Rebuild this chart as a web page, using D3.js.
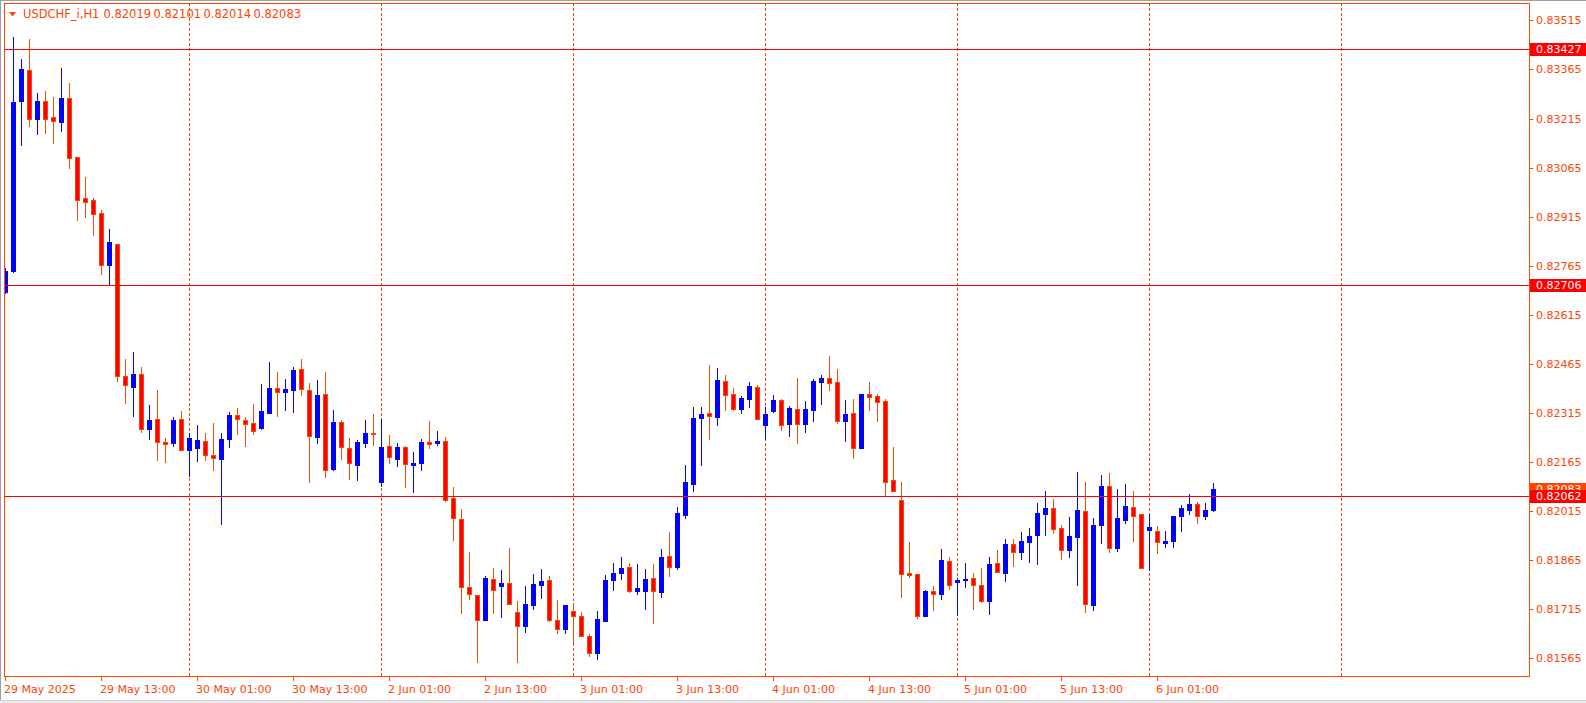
<!DOCTYPE html>
<html><head><meta charset="utf-8">
<script src="https://cdn.jsdelivr.net/npm/d3@7"></script>
<style>html,body{margin:0;padding:0;background:#fff;overflow:hidden}svg{display:block}</style>
</head><body>
<svg id="chart" width="1586" height="703"></svg>
<script>
// ---- data (USDCHF_i, H1) ----
const symbol = "USDCHF_i,H1";
const openP = [0.82685,0.82750,0.83270,0.83363,0.83215,0.83269,0.83219,0.83205,0.83278,0.83097,
0.82972,0.82966,0.82926,0.82768,0.82831,0.82428,0.82396,0.82434,0.82267,0.82297,
0.82227,0.82224,0.82297,0.82203,0.82209,0.82230,0.82187,0.82175,0.82237,0.82309,
0.82294,0.82285,0.82269,0.82316,0.82392,0.82380,0.82386,0.82449,0.82385,0.82243,
0.82373,0.82145,0.82288,0.82208,0.82157,0.82224,0.82254,0.82105,0.82213,0.82175,
0.82210,0.82155,0.82163,0.82226,0.82224,0.82230,0.82055,0.81991,0.81783,0.81759,
0.81683,0.81808,0.81787,0.81796,0.81707,0.81665,0.81729,0.81790,0.81805,0.81682,
0.81656,0.81709,0.81695,0.81634,0.81580,0.81680,0.81806,0.81827,0.81844,0.81772,
0.81772,0.81811,0.81769,0.81878,0.81845,0.82004,0.82099,0.82301,0.82314,0.82304,
0.82413,0.82372,0.82328,0.82359,0.82395,0.82279,0.82322,0.82355,0.82282,0.82327,
0.82282,0.82325,0.82411,0.82422,0.82410,0.82292,0.82315,0.82209,0.82373,0.82367,
0.82352,0.82110,0.82049,0.81826,0.81823,0.81696,0.81771,0.81763,0.81863,0.81800,
0.81806,0.81811,0.81789,0.81741,0.81857,0.81827,0.81915,0.81891,0.81922,0.81943,
0.82007,0.82025,0.81964,0.81897,0.81936,0.82016,0.81729,0.81974,0.82092,0.81903,
0.81989,0.82028,0.82006,0.81958,0.81954,0.81919,0.81925,0.82001,0.82020,0.82037,
0.82001,0.82019];
const highP = [0.82758,0.83465,0.83397,0.83458,0.83293,0.83299,0.83281,0.83370,0.83324,0.83097,
0.83036,0.82973,0.82936,0.82877,0.82831,0.82480,0.82502,0.82456,0.82340,0.82385,
0.82239,0.82302,0.82321,0.82254,0.82278,0.82254,0.82285,0.82254,0.82318,0.82330,
0.82303,0.82343,0.82404,0.82471,0.82440,0.82419,0.82456,0.82480,0.82408,0.82416,
0.82440,0.82324,0.82294,0.82239,0.82233,0.82294,0.82312,0.82298,0.82248,0.82223,
0.82214,0.82196,0.82236,0.82292,0.82261,0.82243,0.82089,0.82022,0.81890,0.81759,
0.81817,0.81841,0.81835,0.81903,0.81741,0.81786,0.81823,0.81838,0.81818,0.81744,
0.81728,0.81732,0.81707,0.81641,0.81710,0.81820,0.81857,0.81875,0.81857,0.81854,
0.81838,0.81854,0.81900,0.81951,0.82028,0.82156,0.82333,0.82333,0.82462,0.82453,
0.82431,0.82392,0.82367,0.82410,0.82401,0.82333,0.82370,0.82358,0.82337,0.82422,
0.82352,0.82419,0.82431,0.82489,0.82450,0.82355,0.82358,0.82373,0.82410,0.82373,
0.82358,0.82212,0.82104,0.81921,0.81823,0.81774,0.81786,0.81900,0.81875,0.81812,
0.81857,0.81826,0.81841,0.81875,0.81896,0.81930,0.81930,0.81951,0.81964,0.82040,
0.82077,0.82052,0.81973,0.81997,0.82135,0.82104,0.81994,0.82126,0.82132,0.82083,
0.82098,0.82077,0.82006,0.82006,0.81970,0.81955,0.82000,0.82034,0.82068,0.82043,
0.82040,0.82101];
const lowP = [0.82682,0.82747,0.83134,0.83192,0.83168,0.83172,0.83141,0.83178,0.83065,0.82905,
0.82915,0.82860,0.82741,0.82709,0.82414,0.82347,0.82307,0.82256,0.82236,0.82172,
0.82164,0.82215,0.82202,0.82124,0.82169,0.82172,0.82142,0.81976,0.82212,0.82252,
0.82215,0.82252,0.82266,0.82316,0.82307,0.82324,0.82319,0.82370,0.82105,0.82224,
0.82119,0.82142,0.82175,0.82113,0.82111,0.82212,0.82218,0.82093,0.82163,0.82154,
0.82090,0.82075,0.82142,0.82207,0.82216,0.82047,0.81928,0.81705,0.81748,0.81555,
0.81682,0.81705,0.81693,0.81730,0.81555,0.81647,0.81717,0.81751,0.81680,0.81644,
0.81644,0.81613,0.81633,0.81573,0.81564,0.81680,0.81775,0.81809,0.81769,0.81763,
0.81717,0.81674,0.81754,0.81817,0.81839,0.81993,0.82078,0.82157,0.82237,0.82278,
0.82324,0.82324,0.82315,0.82333,0.82296,0.82237,0.82319,0.82264,0.82246,0.82224,
0.82257,0.82292,0.82344,0.82386,0.82285,0.82230,0.82179,0.82209,0.82325,0.82292,
0.82065,0.82078,0.81754,0.81815,0.81690,0.81696,0.81714,0.81748,0.81778,0.81699,
0.81784,0.81717,0.81738,0.81702,0.81830,0.81803,0.81848,0.81870,0.81861,0.81855,
0.81943,0.81949,0.81869,0.81876,0.81790,0.81708,0.81712,0.81919,0.81891,0.81894,
0.81980,0.81925,0.81842,0.81836,0.81888,0.81907,0.81907,0.81955,0.82007,0.81980,
0.81992,0.82014];
const closeP = [0.82750,0.83266,0.83366,0.83215,0.83269,0.83215,0.83207,0.83278,0.83095,0.82967,
0.82961,0.82924,0.82768,0.82838,0.82429,0.82400,0.82434,0.82265,0.82294,0.82226,
0.82221,0.82294,0.82203,0.82239,0.82233,0.82188,0.82179,0.82236,0.82309,0.82296,
0.82282,0.82261,0.82321,0.82392,0.82380,0.82388,0.82447,0.82388,0.82244,0.82370,
0.82140,0.82288,0.82210,0.82161,0.82226,0.82254,0.82252,0.82211,0.82180,0.82211,
0.82158,0.82161,0.82226,0.82221,0.82230,0.82050,0.81993,0.81782,0.81761,0.81683,
0.81811,0.81775,0.81796,0.81730,0.81665,0.81731,0.81793,0.81802,0.81683,0.81656,
0.81728,0.81694,0.81633,0.81581,0.81686,0.81805,0.81826,0.81841,0.81772,0.81780,
0.81808,0.81772,0.81875,0.81844,0.82010,0.82104,0.82300,0.82312,0.82305,0.82416,
0.82371,0.82328,0.82361,0.82398,0.82296,0.82312,0.82355,0.82279,0.82330,0.82282,
0.82327,0.82413,0.82422,0.82408,0.82292,0.82312,0.82209,0.82373,0.82365,0.82350,
0.82105,0.82078,0.81824,0.81820,0.81696,0.81771,0.81763,0.81866,0.81790,0.81805,
0.81809,0.81790,0.81741,0.81854,0.81830,0.81915,0.81891,0.81924,0.81939,0.82010,
0.82025,0.81962,0.81897,0.81939,0.82019,0.81732,0.81973,0.82092,0.81903,0.81994,
0.82031,0.82001,0.81842,0.81967,0.81922,0.81925,0.82000,0.82025,0.82037,0.82001,
0.82019,0.82083];
const timeLabelIdx = [0,12,24,36,48,60,72,84,96,108,120,132,144];
const timeLabels = ["29 May 2025","29 May 13:00","30 May 01:00","30 May 13:00","2 Jun 01:00","2 Jun 13:00",
  "3 Jun 01:00","3 Jun 13:00","4 Jun 01:00","4 Jun 13:00","5 Jun 01:00","5 Jun 13:00","6 Jun 01:00"];
const separatorIdx = [23,47,71,95,119,143,167];
const priceTicks = [0.83515,0.83365,0.83215,0.83065,0.82915,0.82765,0.82615,0.82465,0.82315,0.82165,0.82015,0.81865,0.81715,0.81565];
const hLines = [0.83427,0.82706,0.82062];
const bidPrice = 0.82083;

// ---- layout ----
const ORANGE = "#ff4500", RED = "#ff0000", BLUE = "#0000ff";
const FONT = "'DejaVu Sans', sans-serif";
const L = 4, R = 1529, T = 3, B = 676;
const n = openP.length;
const svg = d3.select("#chart");
const x = d3.scaleLinear().domain([0, 151]).range([5.5, 1213.5]);
const y = d3.scaleLinear().domain([0.83515, 0.81565]).range([20.4, 658.4]);
const ry = v => Math.round(y(v));

// window border
svg.append("rect").attr("x",0).attr("y",0).attr("width",1586).attr("height",703).attr("fill","#fff");
svg.append("rect").attr("x",0).attr("y",700).attr("width",1586).attr("height",3).attr("fill","#ececec");
svg.append("line").attr("x1",0).attr("x2",1586).attr("y1",700.5).attr("y2",700.5).attr("stroke","#d0d0d0");
svg.append("line").attr("x1",0.5).attr("x2",0.5).attr("y1",0).attr("y2",700).attr("stroke","#a0a0a0");
svg.append("line").attr("x1",0).attr("x2",1586).attr("y1",0.5).attr("y2",0.5).attr("stroke","#a0a0a0");

svg.append("defs").append("clipPath").attr("id","plot")
  .append("rect").attr("x",L+1).attr("y",T+1).attr("width",R-L-1).attr("height",B-T-1);

const g = svg.append("g").attr("clip-path","url(#plot)").attr("shape-rendering","crispEdges");

// day separators
g.selectAll("line.sep").data(separatorIdx).join("line").attr("class","sep")
  .attr("x1",d=>x(d)).attr("x2",d=>x(d)).attr("y1",T).attr("y2",B)
  .attr("stroke",ORANGE).attr("stroke-width",1).attr("stroke-dasharray","3,2");

// candles
const idx = d3.range(n);
const cg = g.append("g");
idx.forEach(i => {
  const cx = x(i);
  const bull = closeP[i] >= openP[i];
  const col = bull ? BLUE : ORANGE;
  cg.append("line").attr("x1",cx).attr("x2",cx)
    .attr("y1",ry(highP[i])).attr("y2",ry(lowP[i])+1)
    .attr("stroke",col).attr("stroke-width",1);
  const top = ry(Math.max(openP[i],closeP[i]));
  const bot = ry(Math.min(openP[i],closeP[i]));
  const h = Math.max(2, bot - top + 1);
  if (bull) {
    cg.append("rect").attr("x",cx-2.5).attr("y",top).attr("width",5).attr("height",h).attr("fill",BLUE);
  } else {
    cg.append("rect").attr("x",cx-2).attr("y",top+0.5).attr("width",4).attr("height",h-1)
      .attr("fill",RED).attr("stroke",ORANGE).attr("stroke-width",1);
  }
});

// horizontal lines
g.selectAll("line.hl").data(hLines).join("line").attr("class","hl")
  .attr("x1",L).attr("x2",R).attr("y1",d=>ry(d)+0.5).attr("y2",d=>ry(d)+0.5)
  .attr("stroke",RED).attr("stroke-width",1);

// frame
svg.append("rect").attr("x",L+0.5).attr("y",T+0.5).attr("width",R-L).attr("height",B-T)
  .attr("fill","none").attr("stroke",ORANGE).attr("stroke-width",1).attr("shape-rendering","crispEdges");

// price axis
const ya = svg.append("g").attr("shape-rendering","crispEdges");
ya.selectAll("line").data(priceTicks).join("line")
  .attr("x1",R).attr("x2",R+4).attr("y1",d=>ry(d)+0.5).attr("y2",d=>ry(d)+0.5).attr("stroke",ORANGE);
ya.selectAll("text").data(priceTicks).join("text")
  .attr("x",1536).attr("y",d=>y(d)).attr("dy","0.36em")
  .attr("font-family",FONT).attr("font-size",11).attr("fill",ORANGE)
  .text(d=>d.toFixed(5));

// price labels (bid + lines)
function priceBox(v, fill) {
  const yy = ry(v) + 0.5;
  svg.append("rect").attr("x",1530).attr("y",yy-6.5).attr("width",56).attr("height",13).attr("fill",fill);
  svg.append("text").attr("x",1536).attr("y",yy).attr("dy","0.36em")
    .attr("font-family",FONT).attr("font-size",11).attr("fill","#fff").text(v.toFixed(5));
}
priceBox(bidPrice, ORANGE);
hLines.forEach(v => priceBox(v, RED));

// time axis
const xa = svg.append("g");
xa.selectAll("line").data(timeLabelIdx).join("line").attr("shape-rendering","crispEdges")
  .attr("x1",d=>x(d)).attr("x2",d=>x(d)).attr("y1",B).attr("y2",B+5).attr("stroke",ORANGE);
xa.selectAll("text").data(timeLabelIdx).join("text")
  .attr("x",d=>x(d)-1.5).attr("y",693)
  .attr("font-family",FONT).attr("font-size",11).attr("fill",ORANGE)
  .text((d,i)=>timeLabels[i]);

// header
const last = n - 1;
svg.append("path").attr("d","M9,12 L16,12 L12.5,16.5 Z").attr("fill",ORANGE);
const hdr = svg.append("text").attr("y",18).attr("font-family",FONT).attr("font-size",11.5).attr("fill",ORANGE);
hdr.append("tspan").attr("x",23).text(symbol);
[openP[last],highP[last],lowP[last],closeP[last]].forEach((v,k)=>{
  hdr.append("tspan").attr("x",103.5 + 50*k).text(v.toFixed(5));
});
</script>
</body></html>
